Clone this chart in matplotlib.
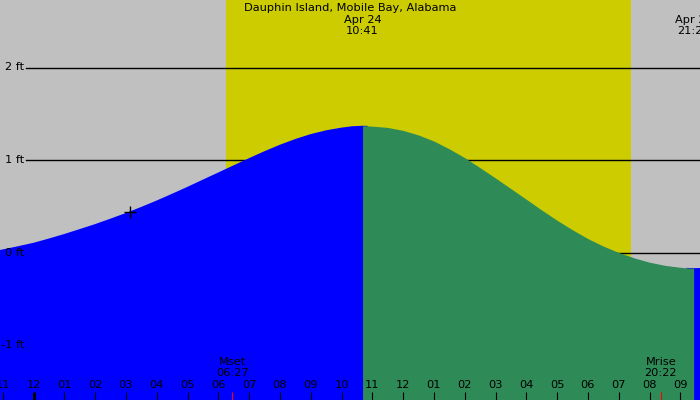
import numpy as np
import matplotlib.pyplot as plt

# ------------------------------------------------
# Data (hours after midnight Apr 24, height in ft)
# ------------------------------------------------
hours = [-1.1, -1, -0.5, 0, 0.5, 1, 1.5, 2, 2.5, 3, 3.5, 4, 4.5, 5, 5.5,
         6, 6.5, 7, 7.5, 8, 8.5, 9, 9.5, 10, 10.35, 10.683,
         10.85, 11, 11.5, 12, 12.5, 13, 13.5, 14, 14.5, 15, 15.5, 16, 16.5,
         17, 17.5, 18, 18.5, 19, 19.5, 20, 20.5, 21, 21.2, 21.433, 21.7]
heights = [0.027, 0.033, 0.068, 0.105, 0.151, 0.200, 0.253, 0.307, 0.366,
           0.427, 0.493, 0.562, 0.635, 0.710, 0.788, 0.865, 0.943, 1.020,
           1.095, 1.165, 1.227, 1.280, 1.321, 1.350, 1.365, 1.370,
           1.369, 1.366, 1.352, 1.320, 1.270, 1.205, 1.120, 1.025, 0.916,
           0.805, 0.690, 0.575, 0.459, 0.348, 0.245, 0.150, 0.069, 0.000,
           -0.058, -0.105, -0.139, -0.160, -0.166, -0.170, -0.167]

high_time, high_label = 10.683, "10:41"
low_time, low_label = 21.433, "21:26"
date_label = "Apr 24"
station = "Dauphin Island, Mobile Bay, Alabama"

sunrise, sunset = 6.25, 19.40
moon_events = [(6.45, "Mset", "06:27"), (20.367, "Mrise", "20:22")]

tick_hours = list(range(-1, 22))
tick_labels = ["11", "12", "01", "02", "03", "04", "05", "06", "07", "08", "09",
               "10", "11", "12", "01", "02", "03", "04", "05", "06", "07", "08", "09"]

levels = [2, 1, 0]
level_labels = [2, 1, 0, -1]
now_time, now_height = 3.13, 0.44

# ------------------------------------------------
# Figure setup
# ------------------------------------------------
plt.rcParams["font.family"] = ["DejaVu Sans"]
plt.rcParams["font.size"] = 8.2

W, H = 700, 400
x_left, x_right = -33.5 / 30.8, (W - 33.5) / 30.8
y_top, y_bot = 252.5 / 92.5, (252.5 - H) / 92.5

fig = plt.figure(figsize=(7, 4), dpi=100)
ax = fig.add_axes([0, 0, 1, 1])
ax.set_xlim(x_left, x_right)
ax.set_ylim(y_bot, y_top)
ax.axis("off")
fig.patch.set_facecolor("#C0C0C0")

# daylight band
ax.axvspan(sunrise, sunset, color="#CCCC00", lw=0, zorder=0)

# level lines sit under the water
for lv in levels:
    ax.axhline(lv, xmin=26 / W, xmax=1, color="black", lw=1, zorder=1)

# ------------------------------------------------
# Tide fill: blue rising, green falling (blue runs one step under the green
# so no seam shows at the turn)
# ------------------------------------------------
t = np.array(hours)
h = np.array(heights)
rising = (t <= t[t > high_time][0]) | (t >= t[t < low_time][-1])
ax.fill_between(t, h, y_bot, where=rising, color="#0000FF", lw=0, zorder=2)
ax.fill_between(t, h, y_bot, where=(t >= high_time) & (t <= low_time),
                color="#2E8B57", lw=0, zorder=3)

ax.plot([now_time], [now_height], marker="+", color="black", ms=8, mew=1, zorder=4)

# ------------------------------------------------
# Labels
# ------------------------------------------------
ytr = ax.get_yaxis_transform()
for lv in level_labels:
    ax.text(24 / W, lv, f"{lv} ft", transform=ytr, ha="right", va="center", zorder=5)

xtr = ax.get_xaxis_transform()
for hr, lab in zip(tick_hours, tick_labels):
    ax.text(hr, 1 - 385.5 / H, lab, transform=xtr, ha="center", va="center", zorder=5)
    lw = 2.2 if hr == 0 else 0.8
    ax.plot([hr, hr], [0, 8 / H], transform=xtr, color="black", lw=lw,
            solid_capstyle="butt", zorder=5)

for mt, name, tstr in moon_events:
    ax.plot([mt, mt], [0, 8 / H], transform=xtr, color="red", lw=0.8,
            solid_capstyle="butt", zorder=5)
    ax.text(mt, 1 - 362 / H, name, transform=xtr, ha="center", va="center", zorder=5)
    ax.text(mt, 1 - 373.5 / H, tstr, transform=xtr, ha="center", va="center", zorder=5)

ax.text(0.5, 1 - 8 / H, station, transform=ax.transAxes, ha="center", va="center", zorder=5)
for tt, lab in [(high_time, high_label), (low_time, low_label)]:
    ax.text(tt, 1 - 20 / H, date_label, transform=xtr, ha="center", va="center", zorder=5)
    ax.text(tt, 1 - 31.5 / H, lab, transform=xtr, ha="center", va="center", zorder=5)

fig.savefig("out.png", dpi=100, facecolor=fig.get_facecolor())
